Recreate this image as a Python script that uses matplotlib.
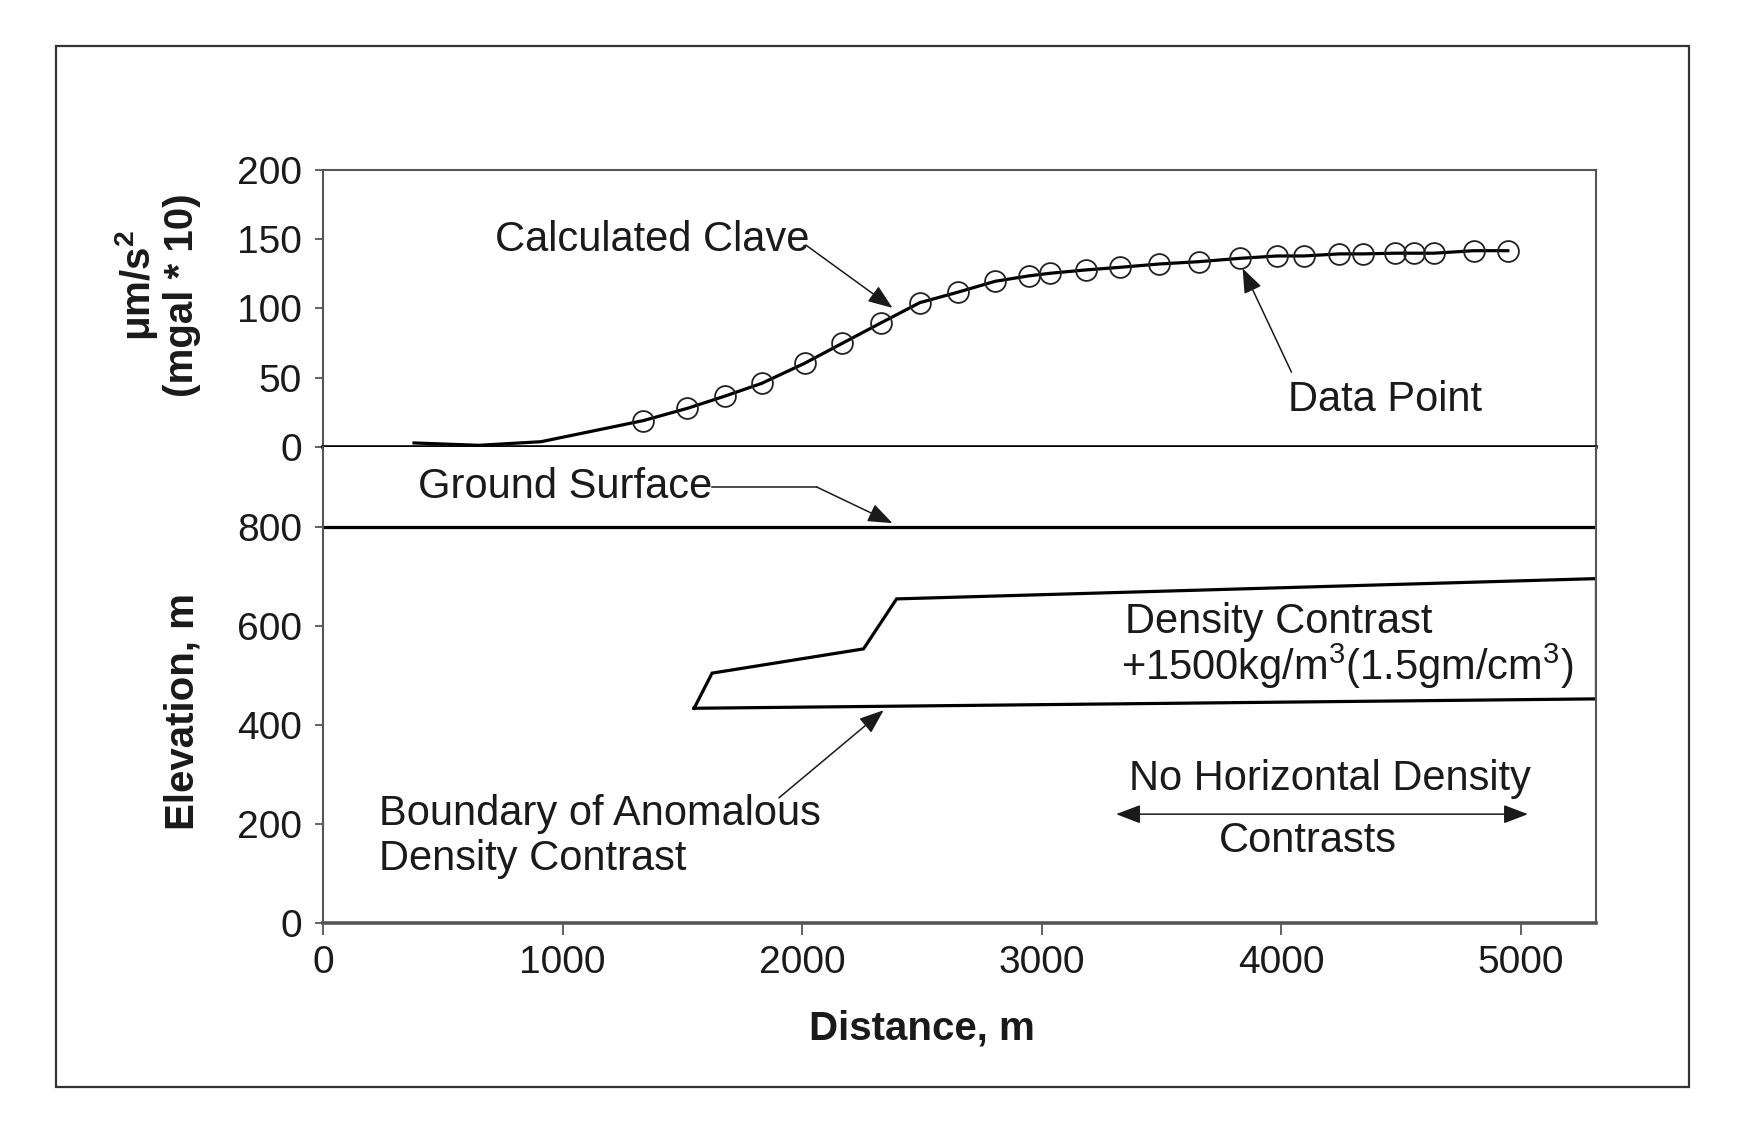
import matplotlib
matplotlib.use('Agg')
import matplotlib.pyplot as plt
from matplotlib.patches import Rectangle

plt.rcParams['font.family'] = ['Liberation Sans', 'DejaVu Sans']
plt.rcParams['mathtext.fontset'] = 'custom'
plt.rcParams['mathtext.rm'] = 'Liberation Sans'
plt.rcParams['mathtext.it'] = 'Liberation Sans:italic'
plt.rcParams['mathtext.bf'] = 'Liberation Sans:bold'

# gravity profile
data_x = [1336, 1521, 1679, 1832, 2010, 2168, 2330, 2491, 2651, 2805, 2945, 3034,
          3183, 3326, 3490, 3657, 3828, 3982, 4094, 4242, 4342, 4473, 4552, 4636,
          4803, 4945]
data_y = [19.0, 27.9, 36.8, 46.0, 60.4, 74.9, 89.7, 104.2, 111.8, 119.6, 123.5, 125.4,
          127.8, 129.7, 132.1, 133.8, 136.2, 137.9, 137.9, 139.4, 139.4, 139.9, 139.9, 139.9,
          141.7, 141.7]
calc_x = [380, 650, 910, 1336, 1521, 1679, 1832, 2010, 2168, 2330, 2491, 2651, 2805,
          2945, 3034, 3183, 3326, 3490, 3657, 3828, 3982, 4094, 4242, 4342, 4473, 4552,
          4636, 4803, 4945]
calc_y = [2.9, 1.2, 3.8, 19.0, 27.9, 36.8, 46.0, 60.4, 74.9, 89.7, 104.2, 111.8, 119.6,
          123.5, 125.4, 127.8, 129.7, 132.1, 133.8, 136.2, 137.9, 137.9, 139.4, 139.4, 139.9,
          139.9, 139.9, 141.7, 141.7]

# cross section
ground_x = [0, 5315]
ground_elev = [800, 800]
body_x = [1549, 1624, 2256, 2394, 5315, 5315, 1549]
body_elev = [434, 505, 554, 655, 696, 453, 434]

dist_ticks = [0, 1000, 2000, 3000, 4000, 5000]
grav_ticks = [0, 50, 100, 150, 200]
elev_ticks = [0, 200, 400, 600, 800]

spine_c = '#555555'
txt_c = '#1a1a1a'
fs_tick = 28
fs_note = 30

fig = plt.figure(figsize=(17.41, 11.33), dpi=100)
ax_g = fig.add_axes([0.1855, 0.6055, 0.7315, 0.2445])
ax_e = fig.add_axes([0.1855, 0.1853, 0.7315, 0.4202])

# outer frame
fig.patches.append(Rectangle((0.0321, 0.0406), 0.9378, 0.9188, transform=fig.transFigure,
                             fill=False, lw=1.6, ec='#333333'))

# ---- gravity panel
ax_g.plot(calc_x, calc_y, color='black', lw=2.3, zorder=3)
ax_g.plot(data_x, data_y, 'o', ms=15, mfc='none', mec='#222222', mew=1.3, zorder=4)
ax_g.set_xlim(0, 5315)
ax_g.set_ylim(0, 200)
ax_g.set_yticks(grav_ticks)
ax_g.set_xticks([])
for s in ['left', 'right', 'top']:
    ax_g.spines[s].set_color(spine_c)
    ax_g.spines[s].set_linewidth(1.5)
ax_g.spines['bottom'].set_color('black')
ax_g.spines['bottom'].set_linewidth(2.6)
ax_g.tick_params(axis='y', direction='out', length=6, width=1.3, pad=9,
                 color=spine_c, labelcolor=txt_c, labelsize=fs_tick)

arr = dict(arrowstyle='-|>,head_length=0.42,head_width=0.16', mutation_scale=36,
           lw=1.1, color='#1a1a1a', shrinkA=0, shrinkB=0)

ax_g.text(720, 141.5, 'Calculated Clave', fontsize=fs_note, color=txt_c, va='baseline')
ax_g.annotate('', xy=(2377, 100.4), xytext=(2015, 145.8), arrowprops=arr)
ax_g.text(4026, 26, 'Data Point', fontsize=fs_note, color=txt_c, va='baseline')
ax_g.annotate('', xy=(3838, 129), xytext=(4042, 54), arrowprops=arr)

# ---- elevation panel
ax_e.plot(ground_x, ground_elev, color='black', lw=2.3)
ax_e.plot(body_x, body_elev, color='black', lw=2.3, solid_joinstyle='miter')
ax_e.set_xlim(0, 5315)
ax_e.set_ylim(0, 962)
ax_e.set_xticks(dist_ticks)
ax_e.set_yticks(elev_ticks)
ax_e.spines['top'].set_visible(False)
for s in ['left', 'right']:
    ax_e.spines[s].set_color(spine_c)
    ax_e.spines[s].set_linewidth(1.5)
ax_e.spines['bottom'].set_color(spine_c)
ax_e.spines['bottom'].set_linewidth(2.6)
ax_e.tick_params(axis='y', direction='out', length=6, width=1.3, pad=9,
                 color=spine_c, labelcolor=txt_c, labelsize=fs_tick)
ax_e.tick_params(axis='x', direction='out', length=8.5, width=1.3, pad=7,
                 color=spine_c, labelcolor=txt_c, labelsize=fs_tick)

ax_e.text(396, 859, 'Ground Surface', fontsize=fs_note, color=txt_c, va='baseline')
ax_e.plot([1625, 2061], [881, 881], color='#1a1a1a', lw=1.1)
ax_e.annotate('', xy=(2377, 808), xytext=(2061, 881), arrowprops=arr)

ax_e.text(3347, 586, 'Density Contrast', fontsize=fs_note, color=txt_c, va='baseline')
ax_e.text(3331, 491, r'+1500kg/m$^3$(1.5gm/cm$^3$)', fontsize=fs_note, color=txt_c,
          va='baseline')

ax_e.text(235, 198, 'Boundary of Anomalous', fontsize=fs_note, color=txt_c, va='baseline')
ax_e.text(235, 107, 'Density Contrast', fontsize=fs_note, color=txt_c, va='baseline')
ax_e.annotate('', xy=(2340, 430), xytext=(1903, 253), arrowprops=arr)

ax_e.text(4201, 269, 'No Horizontal Density', fontsize=fs_note, color=txt_c,
          va='baseline', ha='center')
ax_e.annotate('', xy=(5029, 220), xytext=(3310, 220),
              arrowprops=dict(arr, arrowstyle='<|-|>,head_length=0.42,head_width=0.16'))
ax_e.text(4109, 143, 'Contrasts', fontsize=fs_note, color=txt_c, va='baseline', ha='center')

# axis titles
fig.text(0.0785, 0.7476, r'$\mathregular{\mu}$m/s$^\mathbf{2}$', rotation=90, fontsize=29,
         fontweight='bold', color=txt_c, ha='center', va='center')
fig.text(0.1044, 0.7396, '(mgal * 10)', rotation=90, fontsize=29, fontweight='bold',
         color=txt_c, ha='center', va='center')
fig.text(0.105, 0.3716, 'Elevation, m', rotation=90, fontsize=29, fontweight='bold',
         color=txt_c, ha='center', va='center')
fig.text(0.5297, 0.0821, 'Distance, m', fontsize=29, fontweight='bold', color=txt_c,
         ha='center', va='baseline')

fig.savefig('out.png', dpi=100, facecolor='white')
